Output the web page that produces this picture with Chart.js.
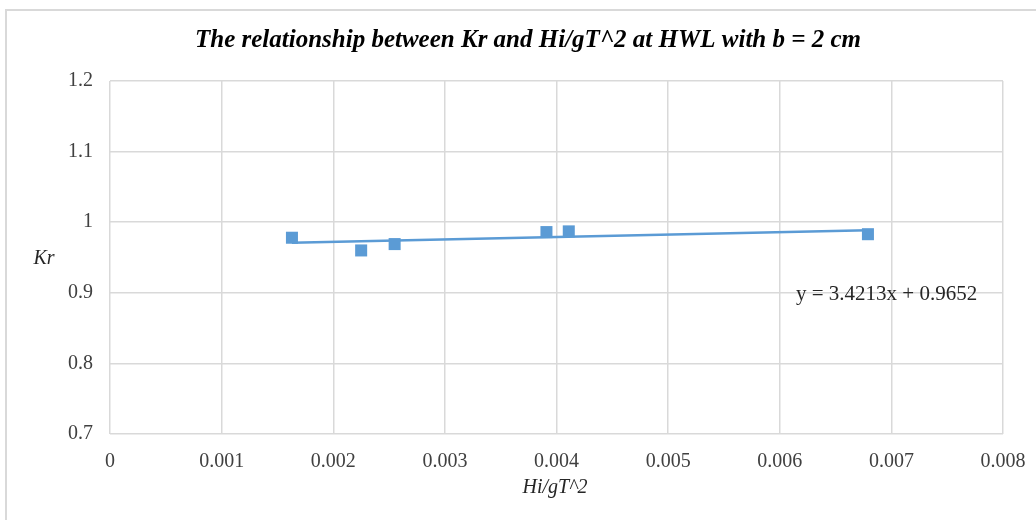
<!DOCTYPE html>
<html>
<head>
<meta charset="utf-8">
<script src="https://cdn.jsdelivr.net/npm/chart.js@4/dist/chart.umd.min.js"></script>
<style>
  html, body { margin: 0; padding: 0; background: #ffffff; }
  #wrap { position: relative; width: 1036px; height: 520px; }
</style>
</head>
<body>
<div id="wrap"><canvas id="c" width="1036" height="520"></canvas></div>
<script>
// Measured wave data: relative wave height vs. Kr
const hiGT2 = [0.00163, 0.00225, 0.00255, 0.00391, 0.00411, 0.00679];
const kr    = [0.978,   0.960,   0.969,   0.986,   0.987,   0.983];

// Linear trendline coefficients (y = slope * x + intercept)
const slope = 3.4213;
const intercept = 0.9652;

const xTicks = [0, 0.001, 0.002, 0.003, 0.004, 0.005, 0.006, 0.007, 0.008];
const yTicks = [0.7, 0.8, 0.9, 1, 1.1, 1.2];

const titleText = 'The relationship between Kr and Hi/gT^2 at HWL with b = 2 cm';
const xTitle = 'Hi/gT^2';
const yTitle = 'Kr';
const equationText = 'y = ' + slope.toFixed(4) + 'x + ' + intercept.toFixed(4);

const blue = '#5B9BD5';
const gridColor = '#d9d9d9';
const serif = "'Liberation Serif', 'Times New Roman', serif";

const points = hiGT2.map((x, i) => ({ x: x, y: kr[i] }));
const xMin = Math.min(...hiGT2), xMax = Math.max(...hiGT2);
const trend = [
  { x: xMin, y: slope * xMin + intercept },
  { x: xMax, y: slope * xMax + intercept }
];

// Frame, title, axis titles and equation label
const decorations = {
  id: 'decorations',
  beforeDraw(chart) {
    const ctx = chart.ctx;
    ctx.save();
    ctx.fillStyle = gridColor;
    ctx.fillRect(5, 9, 2, 520);
    ctx.fillRect(5, 9, 1036, 2);
    ctx.restore();
  },
  afterDraw(chart) {
    const ctx = chart.ctx;
    ctx.save();
    ctx.textAlign = 'center';
    ctx.textBaseline = 'middle';
    ctx.fillStyle = '#000000';
    ctx.font = 'italic bold 25px ' + serif;
    ctx.fillText(titleText, 528, 41);

    ctx.fillStyle = '#262626';
    ctx.font = 'italic 20px ' + serif;
    ctx.fillText(xTitle, 555, 488);
    ctx.fillText(yTitle, 44, 259);

    ctx.fillStyle = '#262626';
    ctx.font = '21px ' + serif;
    ctx.textAlign = 'left';
    ctx.fillText(equationText, 796, 294);
    ctx.restore();
  }
};

new Chart(document.getElementById('c'), {
  type: 'scatter',
  data: {
    datasets: [
      {
        label: 'Trend',
        data: trend,
        showLine: true,
        borderColor: blue,
        borderWidth: 2.5,
        pointRadius: 0,
        fill: false,
        order: 2
      },
      {
        label: 'Kr',
        data: points,
        pointStyle: 'rect',
        pointRadius: 8.5,
        pointHoverRadius: 8.5,
        backgroundColor: blue,
        borderWidth: 0,
        order: 1
      }
    ]
  },
  plugins: [decorations],
  options: {
    responsive: false,
    animation: false,
    events: [],
    layout: { padding: { left: 0, right: 33, top: 81, bottom: 0 } },
    plugins: {
      legend: { display: false },
      title: { display: false },
      tooltip: { enabled: false }
    },
    scales: {
      x: {
        type: 'linear',
        min: 0,
        max: 0.008,
        afterBuildTicks(scale) { scale.ticks = xTicks.map(v => ({ value: v })); },
        afterFit(scale) {
          scale.height = 86;
          scale.paddingLeft = 0;
          scale.paddingRight = 0;
        },
        ticks: {
          padding: 16,
          maxRotation: 0,
          color: '#404040',
          font: { family: serif, size: 20 },
          callback: v => String(v)
        },
        grid: { color: gridColor, lineWidth: 1.5, drawTicks: false },
        border: { display: false }
      },
      y: {
        type: 'linear',
        min: 0.7,
        max: 1.2,
        afterBuildTicks(scale) { scale.ticks = yTicks.map(v => ({ value: v })); },
        afterFit(scale) {
          scale.width = 110;
          scale.paddingTop = 0;
          scale.paddingBottom = 0;
        },
        ticks: {
          padding: 17,
          color: '#404040',
          font: { family: serif, size: 20 },
          callback: v => String(v)
        },
        grid: { color: gridColor, lineWidth: 1.5, drawTicks: false },
        border: { display: false }
      }
    }
  }
});
</script>
</body>
</html>
